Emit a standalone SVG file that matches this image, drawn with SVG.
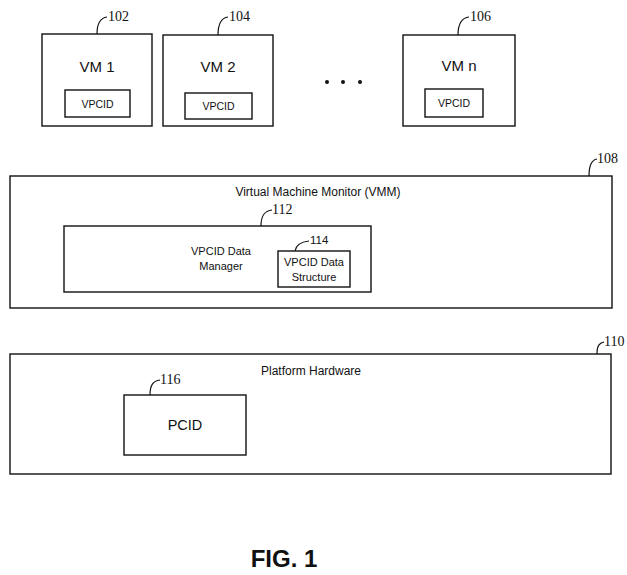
<svg xmlns="http://www.w3.org/2000/svg" width="627" height="575" viewBox="0 0 627 575">
<style>
.box{fill:#fff;stroke:#111;stroke-width:1.4}
.lead{fill:none;stroke:#111;stroke-width:1.2}
.t{font-family:"Liberation Sans",Arial,sans-serif;fill:#111;text-anchor:middle}
.n{font-family:"Liberation Serif","Times New Roman",serif;font-size:14px;fill:#111}
</style>
<rect width="627" height="575" fill="#fff"/>
<g id="vm1">
<rect class="box" x="42" y="34" width="110" height="92"/>
<text class="t" x="97" y="72" font-size="15">VM 1</text>
<rect class="box" x="65" y="90" width="65" height="27"/>
<text class="t" x="97.5" y="107.5" font-size="10.5">VPCID</text>
</g>
<g id="vm2">
<rect class="box" x="163" y="35" width="110" height="91"/>
<text class="t" x="218" y="72" font-size="15">VM 2</text>
<rect class="box" x="185" y="93" width="67" height="26"/>
<text class="t" x="218.5" y="110" font-size="10.5">VPCID</text>
</g>
<g id="dots" fill="#111">
<circle cx="327" cy="82" r="2"/>
<circle cx="343" cy="82" r="2"/>
<circle cx="360" cy="82" r="2"/>
</g>
<g id="vmn">
<rect class="box" x="403" y="35" width="112" height="91"/>
<text class="t" x="459" y="71" font-size="15">VM n</text>
<rect class="box" x="425" y="89" width="58" height="28"/>
<text class="t" x="454" y="107" font-size="10.5">VPCID</text>
</g>
<g id="vmm">
<rect class="box" x="10" y="176" width="602" height="132"/>
<text class="t" x="318" y="196" font-size="12">Virtual Machine Monitor (VMM)</text>
</g>
<g id="manager">
<rect class="box" x="64" y="226" width="307" height="66"/>
<text class="t" x="221" y="255" font-size="11">VPCID Data</text>
<text class="t" x="221" y="270" font-size="11">Manager</text>
</g>
<g id="structure">
<rect class="box" x="278" y="251" width="72" height="36"/>
<text class="t" x="314" y="266" font-size="11">VPCID Data</text>
<text class="t" x="314" y="281" font-size="11">Structure</text>
</g>
<g id="platform">
<rect class="box" x="10" y="354" width="601" height="120"/>
<text class="t" x="311" y="375" font-size="12">Platform Hardware</text>
</g>
<g id="pcid">
<rect class="box" x="124" y="395" width="122" height="60"/>
<text class="t" x="185" y="430" font-size="14.5">PCID</text>
</g>
<g id="connectors">
<path class="lead" d="M97 34 C97 24 100 18 107 17"/>
<path class="lead" d="M218 35 C218 25 221 18 228 17"/>
<path class="lead" d="M458 35 C458 25 461 18 469 17"/>
<path class="lead" d="M589 176 C589 166 591 160 597 159"/>
<path class="lead" d="M261 226 C261 216 264 211 272 210"/>
<path class="lead" d="M295 251 C296 245 300 242 309 241"/>
<path class="lead" d="M150 395 C150 385 153 381 160 380"/>
<path class="lead" d="M597 354 C597 346 599 343 604 342"/>
</g>
<g id="labels">
<text class="n" x="597" y="163">108</text>
<text class="n" x="108" y="21">102</text>
<text class="n" x="229" y="21">104</text>
<text class="n" x="470" y="21">106</text>
<text class="n" x="272" y="214">112</text>
<text x="310" y="244" font-family="Liberation Sans,Arial,sans-serif" font-size="11.5" fill="#111">114</text>
<text class="n" x="160" y="384">116</text>
<text class="n" x="604" y="346">110</text>
<text x="284" y="567" font-family="Liberation Sans,Arial,sans-serif" font-size="24" font-weight="bold" text-anchor="middle" fill="#111">FIG. 1</text>
</g>
</svg>
